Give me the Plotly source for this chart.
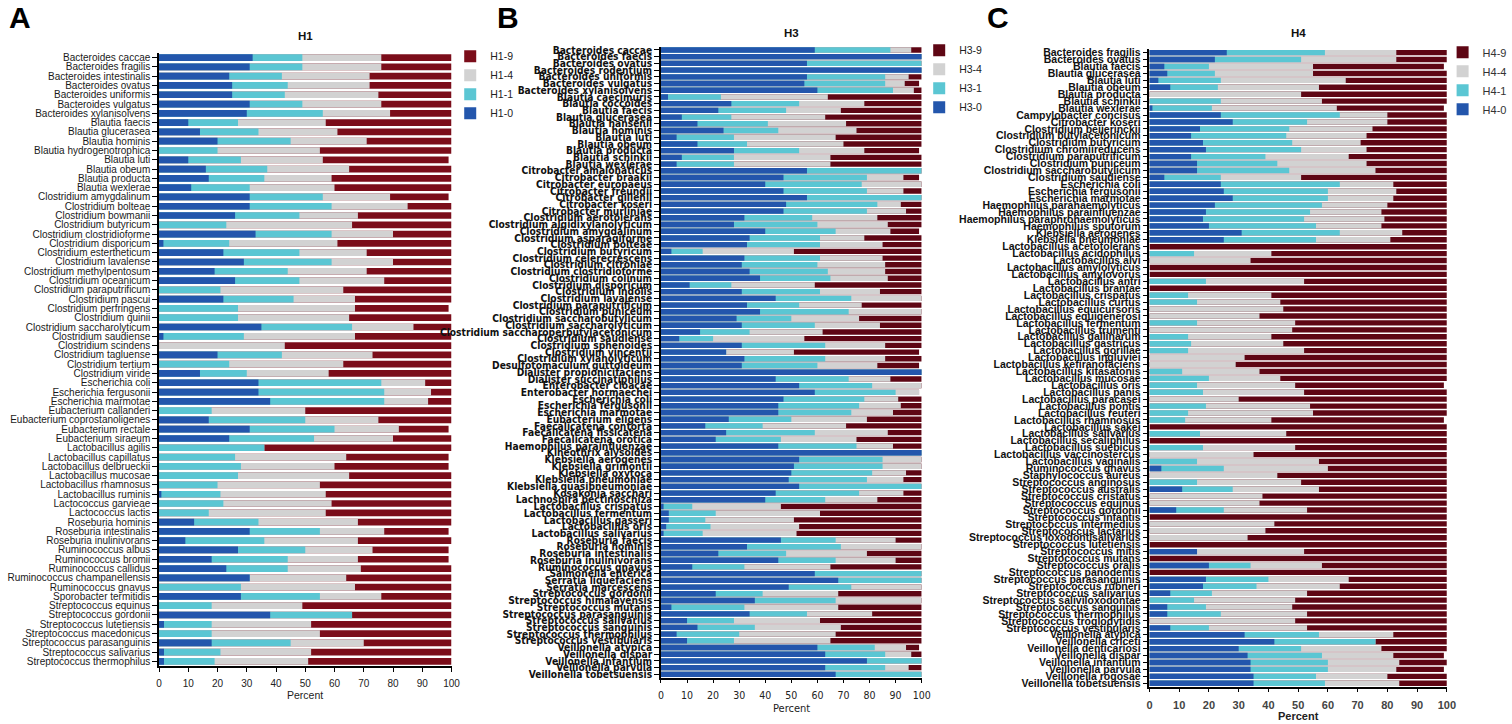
import plotly.graph_objects as go

# cumulative percent at the right edge of each band (0 -> blue, 1 -> cyan, 4 -> gray, 9 -> red)

# ---- H1 ----
h1_species = [
    "Bacteroides caccae", "Bacteroides fragilis", "Bacteroides intestinalis", "Bacteroides ovatus",
    "Bacteroides uniformis", "Bacteroides vulgatus", "Bacteroides xylanisolvens", "Blautia faecis",
    "Blautia glucerasea", "Blautia hominis", "Blautia hydrogenotrophica", "Blautia luti",
    "Blautia obeum", "Blautia producta", "Blautia wexlerae", "Clostridium amygdalinum",
    "Clostridium bolteae", "Clostridium bowmanii", "Clostridium butyricum", "Clostridium clostridioforme",
    "Clostridium disporicum", "Clostridium estertheticum", "Clostridium lavalense", "Clostridium methylpentosum",
    "Clostridium oceanicum", "Clostridium paraputrificum", "Clostridium pascui", "Clostridium perfringens",
    "Clostridium quinii", "Clostridium saccharolyticum", "Clostridium saudiense", "Clostridium scindens",
    "Clostridium tagluense", "Clostridium tertium", "Clostridium viride", "Escherichia coli",
    "Escherichia fergusonii", "Escherichia marmotae", "Eubacterium callanderi", "Eubacterium coprostanoligenes",
    "Eubacterium rectale", "Eubacterium siraeum", "Lactobacillus agilis", "Lactobacillus capillatus",
    "Lactobacillus delbrueckii", "Lactobacillus mucosae", "Lactobacillus rhamnosus", "Lactobacillus ruminis",
    "Lactococcus garvieae", "Lactococcus lactis", "Roseburia hominis", "Roseburia intestinalis",
    "Roseburia inulinivorans", "Ruminococcus albus", "Ruminococcus bromii", "Ruminococcus callidus",
    "Ruminococcus champanellensis", "Ruminococcus gnavus", "Sporobacter termitidis", "Streptococcus equinus",
    "Streptococcus gordonii", "Streptococcus lutetiensis", "Streptococcus macedonicus", "Streptococcus parasanguinis",
    "Streptococcus salivarius", "Streptococcus thermophilus",
]
h1_0 = [32, 31, 24, 25, 25, 31, 30, 10, 14, 20, 0, 10, 16, 17, 11, 31, 31, 26, 0, 33, 1.5, 22, 29, 19,
        26, 0, 22, 0, 0, 35, 1.5, 0, 20, 0, 14, 34, 34, 38, 0, 17, 31, 24, 0, 0, 0, 0, 0, 0.8,
        0, 0, 12, 31, 9, 27, 18, 23, 31, 0, 28, 0, 38, 1.7, 0, 18, 1.7, 1.7]
h1_1 = [49, 49, 42, 44, 43, 49, 56, 27, 34, 45, 20, 28, 37, 36, 31, 56, 59, 48, 23, 59, 24, 48, 59, 44,
        48, 21, 46, 27, 27, 66, 29, 0, 42, 24, 30, 76, 77, 77, 18, 50, 60, 53, 36, 26, 28, 27, 20, 21,
        22, 17, 34, 55, 36, 50, 44, 44, 31, 28, 55, 18, 66, 18, 18, 45, 21, 19]
h1_4 = [76, 76, 72, 72, 75, 76, 79, 57, 61, 71, 55, 56, 65, 59, 60, 79, 85, 68, 66, 80, 61, 71, 80, 71,
        77, 63, 67, 67, 65, 87, 67, 43, 73, 63, 58, 91, 93, 92, 50, 75, 82, 80, 36, 64, 60, 65, 55, 57,
        59, 57, 68, 77, 68, 73, 68, 69, 64, 67, 76, 49, 66, 52, 55, 70, 52, 51]
h1_9 = [100, 100, 100, 100, 100, 100, 100, 100, 100, 100, 100, 99, 100, 100, 100, 99, 100, 100, 100, 100, 100, 100, 100, 100,
        100, 100, 100, 99, 100, 100, 100, 100, 100, 100, 100, 100, 100, 100, 100, 100, 99, 100, 100, 99, 99, 100, 100, 100,
        100, 100, 100, 99, 100, 99, 99, 100, 100, 100, 100, 100, 100, 100, 100, 100, 100, 100]

# ---- H3 ----
h3_species = [
    "Bacteroides caccae", "Bacteroides faecis", "Bacteroides ovatus", "Bacteroides rodentium",
    "Bacteroides uniformis", "Bacteroides vulgatus", "Bacteroides xylanisolvens", "Blautia caecimuris",
    "Blautia coccoides", "Blautia faecis", "Blautia glucerasea", "Blautia hansenii",
    "Blautia hominis", "Blautia luti", "Blautia obeum", "Blautia producta",
    "Blautia schinkii", "Blautia wexlerae", "Citrobacter amalonaticus", "Citrobacter braakii",
    "Citrobacter europaeus", "Citrobacter freundii", "Citrobacter gillenii", "Citrobacter koseri",
    "Citrobacter murliniae", "Clostridium aerotolerans", "Clostridium algidixylanolyticum", "Clostridium amygdalinum",
    "Clostridium asparagiforme", "Clostridium bolteae", "Clostridium butyricum", "Clostridium celerecrescens",
    "Clostridium citroniae", "Clostridium clostridioforme", "Clostridium colinum", "Clostridium disporicum",
    "Clostridium indolis", "Clostridium lavalense", "Clostridium paraputrificum", "Clostridium puniceum",
    "Clostridium saccharobutylicum", "Clostridium saccharolyticum", "Clostridium saccharoperbutylacetonicum", "Clostridium saudiense",
    "Clostridium sphenoides", "Clostridium vincentii", "Clostridium xylanolyticum", "Desulfotomaculum guttoideum",
    "Dialister propionicifaciens", "Dialister succinatiphilus", "Enterobacter cloacae", "Enterobacter hormaechei",
    "Escherichia coli", "Escherichia fergusonii", "Escherichia marmotae", "Eubacterium eligens",
    "Faecalicatena contorta", "Faecalicatena fissicatena", "Faecalicatena orotica", "Haemophilus parainfluenzae",
    "Kineothrix alysoides", "Klebsiella aerogenes", "Klebsiella grimontii", "Klebsiella oxytoca",
    "Klebsiella pneumoniae", "Klebsiella quasipneumoniae", "Kosakonia sacchari", "Lachnospira pectinoschiza",
    "Lactobacillus crispatus", "Lactobacillus fermentum", "Lactobacillus gasseri", "Lactobacillus oris",
    "Lactobacillus salivarius", "Roseburia faecis", "Roseburia hominis", "Roseburia intestinalis",
    "Roseburia inulinivorans", "Ruminococcus gnavus", "Salmonella enterica", "Serratia liquefaciens",
    "Serratia marcescens", "Streptococcus gordonii", "Streptococcus himalayensis", "Streptococcus mutans",
    "Streptococcus parasanguinis", "Streptococcus salivarius", "Streptococcus sanguinis", "Streptococcus thermophilus",
    "Streptococcus vestibularis", "Veillonella atypica", "Veillonella dispar", "Veillonella infantium",
    "Veillonella parvula", "Veillonella tobetsuensis",
]
h3_0 = [59, 100, 56, 100, 56, 55, 60, 2.7, 27, 22, 8, 14, 24, 6, 14, 28, 8, 6, 56, 47, 40, 47, 56, 48,
        47, 32, 28, 40, 34, 33, 4, 32, 31, 34, 38, 11, 31, 44, 33, 38, 29, 31, 15, 7, 31, 25, 32, 31,
        100, 44, 53, 59, 47, 45, 45, 26, 17, 25, 21, 45, 100, 53, 51, 50, 49, 53, 44, 40, 1, 3, 3, 2,
        1, 46, 33, 22, 45, 12, 59, 68, 49, 21, 36, 4, 34, 10, 14, 6, 10, 60, 63, 79, 63, 67]
h3_1 = [88, 100, 100, 100, 86, 86, 89, 23, 53, 48, 27, 41, 45, 28, 33, 53, 28, 28, 100, 79, 77, 79, 100, 83,
        79, 58, 60, 67, 61, 61, 16, 61, 60, 64, 65, 27, 61, 73, 53, 72, 50, 59, 34, 20, 63, 25, 63, 60,
        100, 72, 81, 90, 78, 76, 73, 50, 39, 59, 46, 75, 100, 85, 85, 81, 79, 100, 76, 63, 12, 21, 17, 19,
        16, 67, 69, 48, 67, 32, 100, 100, 73, 39, 67, 32, 56, 28, 36, 30, 28, 82, 86, 100, 86, 100]
h3_4 = [96, 100, 100, 100, 95, 93.5, 97, 64, 78, 69, 63, 71, 75, 67, 70, 78, 65, 65, 100, 93, 100, 93, 100, 92,
        94, 83, 87, 88, 78, 85, 51, 85, 86, 86, 87, 59, 84, 100, 77, 100, 76, 84, 62, 55, 86, 51, 86, 83,
        100, 88, 100, 99, 91, 92, 89, 79, 71, 87, 75, 89, 100, 100, 100, 94, 93, 100, 93, 83, 46, 61, 51, 53,
        52, 90, 100, 79, 90, 65, 100, 100, 100, 68, 100, 68, 81, 61, 69, 67, 65, 94, 96, 100, 95, 100]
h3_9 = [100, 100, 100, 100, 100, 99, 100, 100, 100, 100, 100, 100, 100, 100, 100, 99, 100, 100, 100, 99, 100, 100, 100, 100,
        100, 100, 100, 99, 100, 100, 100, 100, 100, 100, 100, 100, 100, 100, 100, 100, 100, 100, 100, 100, 100, 99, 100, 99,
        100, 100, 100, 99, 100, 100, 100, 100, 100, 100, 100, 100, 100, 100, 100, 100, 100, 100, 100, 100, 100, 100, 100, 100,
        100, 100, 100, 100, 100, 100, 100, 100, 100, 100, 100, 100, 100, 100, 100, 100, 100, 99, 100, 100, 100, 100]

# ---- H4 ----
h4_species = [
    "Bacteroides fragilis", "Bacteroides ovatus", "Blautia faecis", "Blautia glucerasea",
    "Blautia luti", "Blautia obeum", "Blautia producta", "Blautia schinkii",
    "Blautia wexlerae", "Campylobacter concisus", "Citrobacter koseri", "Clostridium beijerinckii",
    "Clostridium butylacetonicum", "Clostridium butyricum", "Clostridium chromiireducens", "Clostridium paraputrificum",
    "Clostridium puniceum", "Clostridium saccharobutylicum", "Clostridium saudiense", "Escherichia coli",
    "Escherichia fergusonii", "Escherichia marmotae", "Haemophilus parahaemolyticus", "Haemophilus parainfluenzae",
    "Haemophilus paraphrohaemolyticus", "Haemophilus sputorum", "Klebsiella aerogenes", "Klebsiella pneumoniae",
    "Lactobacillus acetotolerans", "Lactobacillus acidophilus", "Lactobacillus alvi", "Lactobacillus amylolyticus",
    "Lactobacillus amylovorus", "Lactobacillus antri", "Lactobacillus brantae", "Lactobacillus crispatus",
    "Lactobacillus curtus", "Lactobacillus equicursoris", "Lactobacillus equigenerosi", "Lactobacillus fermentum",
    "Lactobacillus frumenti", "Lactobacillus gallinarum", "Lactobacillus gastricus", "Lactobacillus gorillae",
    "Lactobacillus ingluviei", "Lactobacillus kefiranofaciens", "Lactobacillus kitasatonis", "Lactobacillus mucosae",
    "Lactobacillus oris", "Lactobacillus panis", "Lactobacillus paracasei", "Lactobacillus pontis",
    "Lactobacillus reuteri", "Lactobacillus rhamnosus", "Lactobacillus sakei", "Lactobacillus salivarius",
    "Lactobacillus secaliphilus", "Lactobacillus suebicus", "Lactobacillus vaccinostercus", "Lactobacillus vaginalis",
    "Ruminococcus gnavus", "Staphylococcus aureus", "Streptococcus anginosus", "Streptococcus australis",
    "Streptococcus cristatus", "Streptococcus equinus", "Streptococcus gordonii", "Streptococcus infantis",
    "Streptococcus intermedius", "Streptococcus lactarius", "Streptococcus loxodontisalivarius", "Streptococcus lutetiensis",
    "Streptococcus mitis", "Streptococcus mutans", "Streptococcus oralis", "Streptococcus panodentis",
    "Streptococcus parasanguinis", "Streptococcus rubneri", "Streptococcus salivarius", "Streptococcus saliviloxodontae",
    "Streptococcus sanguinis", "Streptococcus thermophilus", "Streptococcus troglodytidis", "Streptococcus vestibularis",
    "Veillonella atypica", "Veillonella criceti", "Veillonella denticariosi", "Veillonella dispar",
    "Veillonella infantium", "Veillonella parvula", "Veillonella rogosae", "Veillonella tobetsuensis",
]
h4_0 = [26, 22, 5, 6, 3, 7, 0, 0, 1, 24, 28, 17, 14, 18, 19, 14, 16, 16, 5, 24, 25, 28, 22, 19,
        18, 20, 31, 25, 0, 0, 0, 0, 0, 0, 0, 0, 0, 0, 0, 0, 0, 0, 0, 0, 0, 0, 0, 0,
        0, 0, 0, 0, 0, 0, 0, 0, 0, 0, 0, 0, 4, 0, 0, 11, 0, 0, 9, 0, 0, 0, 0, 0,
        16, 0, 20, 0, 19, 18, 7, 0, 6, 6, 0, 7, 32, 42, 30, 33, 34, 34, 35, 35]
h4_1 = [59, 51, 20, 22, 24, 23, 0, 24, 21, 64, 53, 47, 46, 48, 51, 39, 43, 47, 24, 64, 60, 60, 58, 54,
        52, 56, 64, 56, 0, 15, 0, 0, 0, 19, 0, 13, 16, 0, 0, 16, 0, 13, 14, 13, 0, 0, 11, 20,
        16, 18, 0, 19, 13, 12, 0, 17, 0, 18, 0, 16, 25, 0, 16, 28, 0, 0, 25, 0, 0, 0, 0, 0,
        16, 0, 34, 0, 40, 36, 21, 15, 19, 24, 0, 20, 57, 76, 51, 58, 60, 60, 56, 59]
h4_4 = [83, 83, 55, 55, 66, 57, 51, 58, 63, 80, 80, 75, 73, 71, 73, 67, 73, 76, 51, 82, 83, 82, 80, 78,
        79, 78, 85, 81, 0, 41, 34, 0, 0, 52, 0, 41, 44, 45, 37, 49, 48, 41, 45, 52, 32, 29, 37, 44,
        49, 52, 30, 54, 55, 41, 0, 46, 0, 49, 35, 57, 60, 43, 51, 57, 38, 37, 53, 0, 42, 39, 33, 0,
        52, 0, 58, 0, 67, 64, 53, 49, 48, 53, 49, 53, 82, 76, 78, 82, 84, 83, 80, 84]
h4_9 = [100, 100, 99, 100, 100, 100, 100, 100, 99, 100, 100, 100, 100, 100, 100, 100, 100, 100, 100, 100, 100, 100, 100, 100,
        100, 100, 100, 100, 100, 100, 100, 100, 100, 100, 100, 100, 100, 100, 100, 100, 100, 100, 100, 100, 100, 100, 100, 100,
        99, 100, 100, 100, 100, 99, 100, 100, 100, 100, 100, 100, 100, 100, 100, 100, 100, 100, 100, 100, 100, 100, 100, 100,
        100, 100, 100, 100, 100, 100, 100, 100, 100, 100, 100, 100, 100, 100, 100, 99, 100, 99, 100, 100]

W, H = 1512, 724
BLUE, CYAN, GRAY = "#2356AC", "#5BC6D3", "#D2D2D2"
ARIAL = "Liberation Sans, Arial, sans-serif"
COND = "DejaVu Sans Condensed, DejaVu Sans, sans-serif"


def px_x(v):
    return v / W


def px_y(v):
    return 1 - v / H


panels = [
    dict(name="H1", sp=h1_species, edges=[h1_9, h1_4, h1_1, h1_0], red="#7B0D1A",
         x=(157.7, 453.3), y=(50.3, 667.7), ax="", gap=0.28, leg="legend"),
    dict(name="H3", sp=h3_species, edges=[h3_9, h3_4, h3_1, h3_0], red="#5E0614",
         x=(665, 928.5), y=(43.9, 679.4), ax="2", gap=0.2, leg="legend2"),
    dict(name="H4", sp=h4_species, edges=[h4_9, h4_4, h4_1, h4_0], red="#5E0614",
         x=(1158.7, 1459.3), y=(46.5, 688.5), ax="3", gap=0.22, leg="legend3"),
]

fig = go.Figure()
for p in panels:
    colors = [p["red"], GRAY, CYAN, BLUE]
    names = [p["name"] + "-9", p["name"] + "-4", p["name"] + "-1", p["name"] + "-0"]
    # overlay: each band drawn from 0 to its cumulative edge, later bands on top
    for vals, col, nm in zip(p["edges"], colors, names):
        fig.add_trace(go.Bar(
            x=vals, y=p["sp"], orientation="h", name=nm, width=1 - p["gap"],
            marker=dict(color=col, line=dict(width=0)),
            xaxis="x" + p["ax"], yaxis="y" + p["ax"], legend=p["leg"],
        ))

tick_fonts = [
    dict(family=ARIAL, size=10, color="#1a1a1a"),
    dict(family=COND, size=10.2, color="#111", weight="bold"),
    dict(family=ARIAL, size=10.5, color="#111", weight="bold"),
]
xtick_fonts = [
    dict(family=ARIAL, size=10, color="#222"),
    dict(family=COND, size=10.5, color="#222"),
    dict(family=ARIAL, size=11, color="#444", weight="bold"),
]

layout = dict(
    width=W, height=H, margin=dict(l=0, r=0, t=0, b=0),
    barmode="overlay", paper_bgcolor="white", plot_bgcolor="white",
    showlegend=True,
)
for i, p in enumerate(panels):
    n = len(p["sp"])
    layout["xaxis" + p["ax"]] = dict(
        domain=[px_x(p["x"][0]), px_x(p["x"][1])], range=[0, 100], dtick=10, tick0=0,
        anchor="y" + p["ax"], showline=True, linecolor="black", linewidth=1.5,
        ticks="outside", ticklen=4, tickcolor="black", showgrid=False, zeroline=False,
        tickfont=xtick_fonts[i], ticklabelstandoff=3, fixedrange=True,
    )
    layout["yaxis" + p["ax"]] = dict(
        domain=[px_y(p["y"][1]), px_y(p["y"][0])], type="category",
        categoryorder="array", categoryarray=p["sp"], range=[n - 0.5, -0.5],
        tickmode="array", tickvals=p["sp"], ticktext=p["sp"],
        anchor="x" + p["ax"], showline=True, linecolor="black", linewidth=1.5,
        ticks="outside", ticklen=5, tickcolor="black", showgrid=False, zeroline=False,
        tickfont=tick_fonts[i], fixedrange=True,
    )

legend_font = [dict(family=ARIAL, size=10.5, color="#222"),
               dict(family=ARIAL, size=10.5, color="#222"),
               dict(family=ARIAL, size=11, color="#333")]
leg_pos = [(452, 39), (926, 33), (1455, 35)]
for i, p in enumerate(panels):
    layout[p["leg"]] = dict(
        x=px_x(leg_pos[i][0]), y=px_y(leg_pos[i][1]), xanchor="left", yanchor="top",
        bgcolor="rgba(0,0,0,0)", font=legend_font[i], itemclick=False, itemdoubleclick=False,
    )

fig.update_layout(**layout)

ann = []
titles = [("H1", 305.5, 33), ("H3", 796.7, 30), ("H4", 1309, 30)]
for t, x, y in titles:
    ann.append(dict(text="<b>%s</b>" % t, x=px_x(x), y=px_y(y), xref="paper", yref="paper",
                    xanchor="center", yanchor="middle", showarrow=False,
                    font=dict(family=ARIAL, size=11.5, color="#111")))
percent = [(305.5, 697, dict(family=ARIAL, size=10.5, color="#222")),
           (796.7, 710, dict(family=COND, size=11, color="#222")),
           (1309, 718, dict(family=ARIAL, size=11, color="#222", weight="bold"))]
for x, y, f in percent:
    ann.append(dict(text="Percent", x=px_x(x), y=px_y(y), xref="paper", yref="paper",
                    xanchor="center", yanchor="middle", showarrow=False, font=f))
for letter, x in [("A", 4), ("B", 497), ("C", 992)]:
    ann.append(dict(text="<b>%s</b>" % letter, x=px_x(x), y=px_y(15), xref="paper", yref="paper",
                    xanchor="left", yanchor="middle", showarrow=False,
                    font=dict(family=ARIAL, size=30, color="black")))
fig.update_layout(annotations=ann)

fig.write_html("out.html", config={"displayModeBar": False},
               post_script="document.body.style.margin='0';")
